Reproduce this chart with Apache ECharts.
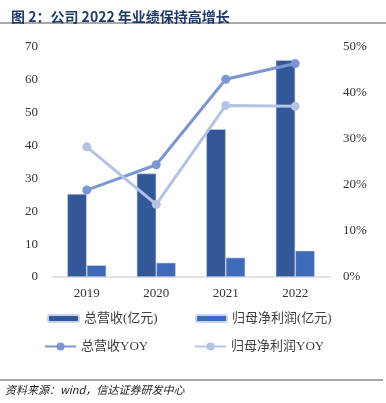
<!DOCTYPE html>
<html><head><meta charset="utf-8">
<script src="https://cdn.jsdelivr.net/npm/echarts@6/dist/echarts.min.js"></script>
<style>html,body{margin:0;padding:0;background:#fff}#c{width:386px;height:403px}</style>
</head><body><div id="c"></div>
<script>
const categories = ['2019', '2020', '2021', '2022'];
const revenue = [25.3, 31.5, 45.0, 66.0];
const netProfit = [3.6, 4.35, 5.9, 8.0];
const revenueYoy = [0.189, 0.244, 0.430, 0.464];
const profitYoy = [0.283, 0.158, 0.373, 0.371];
const leftTicks = [0, 70, 10];
const rightTicks = [0, 0.5, 0.1];
const names = ['总营收(亿元)', '归母净利润(亿元)', '总营收YOY', '归母净利润YOY'];

const serif = '"Liberation Serif", "Noto Sans CJK SC", serif';
const chart = echarts.init(document.getElementById('c'), null, {renderer: 'canvas'});
const legendText = {fontFamily: serif, fontSize: 13, color: '#404040'};
function lg(name, left, top, isLine) {
  return {
    data: [name], left: left, top: top, itemGap: 0,
    itemWidth: 31, itemHeight: isLine ? 10 : 7,
    textStyle: legendText, padding: 0, selectedMode: false
  };
}
chart.setOption({
  animation: false,
  title: {
    text: '图 2：公司 2022 年业绩保持高增长', left: 6, top: 5,
    textStyle: {fontSize: 14, fontWeight: 'bold', color: '#1f3a6b', fontFamily: '"Noto Sans CJK SC", sans-serif'}
  },
  graphic: [
    {type: 'line', shape: {x1: 0, y1: 23, x2: 386, y2: 23}, style: {stroke: '#555', lineWidth: 1.2}},
    {type: 'line', shape: {x1: 0, y1: 380, x2: 383, y2: 380}, style: {stroke: '#888', lineWidth: 1.5}},
    {type: 'text', left: 5, top: 384, style: {text: '资料来源：wind，信达证券研发中心', fontSize: 11, fontStyle: 'italic', fill: '#222', fontFamily: '"Noto Sans CJK SC", sans-serif'}}
  ],
  legend: [
    lg(names[0], 47, 312, false),
    lg(names[1], 195, 312, false),
    lg(names[2], 44, 340, true),
    lg(names[3], 194, 340, true)
  ],
  grid: {left: 52, right: 56, top: 47, bottom: 126},
  xAxis: {
    type: 'category', data: categories,
    axisLine: {lineStyle: {color: '#d9d9d9', width: 1.5}},
    axisTick: {show: false},
    axisLabel: {fontFamily: serif, fontSize: 13, color: '#333', margin: 10}
  },
  yAxis: [
    {type: 'value', min: leftTicks[0], max: leftTicks[1], interval: leftTicks[2],
     splitLine: {show: false}, axisLine: {show: false}, axisTick: {show: false},
     axisLabel: {fontFamily: serif, fontSize: 13, color: '#333', margin: 14}},
    {type: 'value', min: rightTicks[0], max: rightTicks[1], interval: rightTicks[2],
     splitLine: {show: false}, axisLine: {show: false}, axisTick: {show: false},
     axisLabel: {fontFamily: serif, fontSize: 13, color: '#333', margin: 13,
       formatter: v => Math.round(v * 100) + '%'}}
  ],
  series: [
    {name: names[0], type: 'bar', data: revenue, barWidth: 19.5, barGap: '0%',
     itemStyle: {color: '#335899', borderColor: '#c9d3ea', borderWidth: 0.6}},
    {name: names[1], type: 'bar', data: netProfit, barWidth: 19.5,
     itemStyle: {color: '#3e6bb9', borderColor: '#c9d3ea', borderWidth: 0.6}},
    {name: names[2], type: 'line', yAxisIndex: 1, data: revenueYoy,
     symbol: 'circle', symbolSize: 9, lineStyle: {width: 3, color: '#7b97d3'},
     itemStyle: {color: '#7b97d3'}},
    {name: names[3], type: 'line', yAxisIndex: 1, data: profitYoy,
     symbol: 'circle', symbolSize: 9, lineStyle: {width: 3, color: '#b4c2e4'},
     itemStyle: {color: '#b4c2e4'}}
  ]
});
</script></body></html>
